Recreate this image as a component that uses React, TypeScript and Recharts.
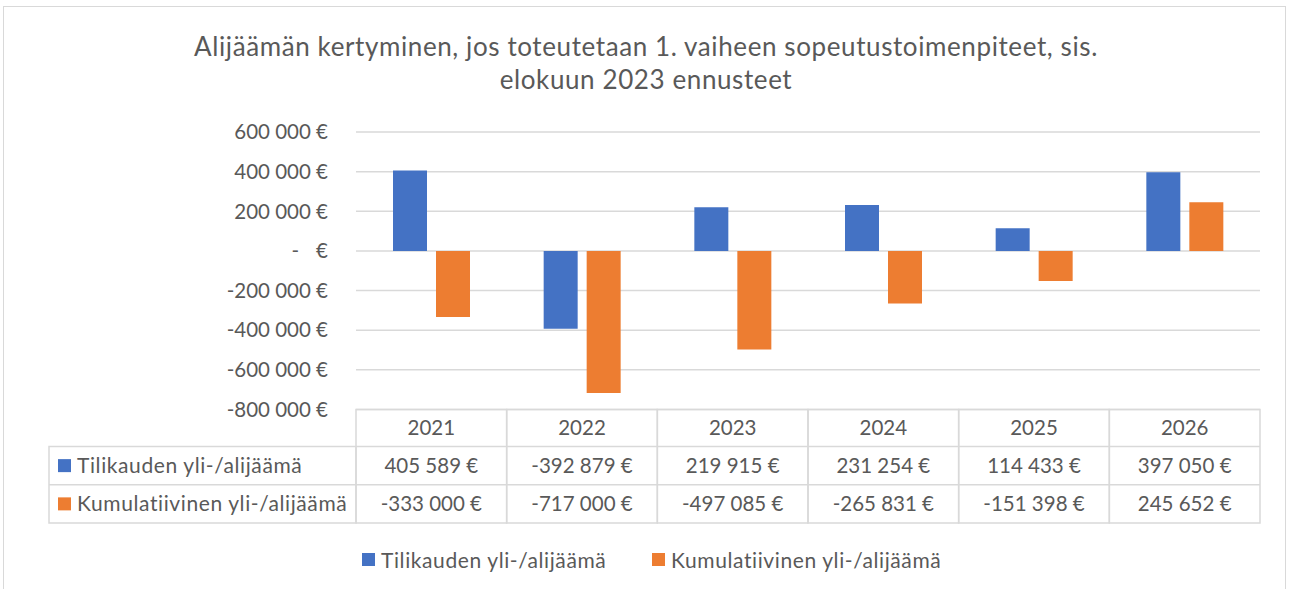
import { BarChart, Bar, XAxis, YAxis, CartesianGrid, Legend } from 'recharts';

const years = ['2021', '2022', '2023', '2024', '2025', '2026'];
const tilikausi = [405589, -392879, 219915, 231254, 114433, 397050];
const kumulatiivinen = [-333000, -717000, -497085, -265831, -151398, 245652];
const yTicks = [-800000, -600000, -400000, -200000, 0, 200000, 400000, 600000];
const seriesNames = ['Tilikauden yli-/alijäämä', 'Kumulatiivinen yli-/alijäämä'];
const seriesColors = ['#4472C4', '#ED7D31'];
const titleLines = [
  'Alijäämän kertyminen, jos toteutetaan 1. vaiheen sopeutustoimenpiteet, sis.',
  'elokuun 2023 ennusteet',
];

const data = years.map((year, i) => ({ year, tilikausi: tilikausi[i], kumulatiivinen: kumulatiivinen[i] }));
const rows = [tilikausi, kumulatiivinen];

// layout
const W = 1290;
const H = 589;
const PLOT_LEFT = 356;
const PLOT_RIGHT = 1260;
const PLOT_TOP = 132;
const Y_AXIS_W = 100;
const TABLE_H = 113.5;
const HEADER_H = 37;
const ROW_H = 38.25;
const LABEL_LEFT = 49;
const COL_W = (PLOT_RIGHT - PLOT_LEFT) / years.length;

const FONT = 'Lato, "Open Sans", sans-serif';
const TEXT = '#595959';
const LINE = '#d9d9d9';
const NUM_SIZE = 20.5;
const LABEL_SIZE = 21;
const LABEL_SPACING = 0.6;

const fmt = (v: number) => {
  const s = String(Math.abs(v)).replace(/\B(?=(\d{3})+(?!\d))/g, ' ');
  return `${v < 0 ? '-' : ''}${s} €`;
};

const YTick = (props: any) => {
  const { x, y, payload } = props;
  if (payload.value === 0) {
    return (
      <g>
        <text x={x - 29} y={y} dy="0.355em" textAnchor="end" fill={TEXT} fontSize={NUM_SIZE} fontFamily={FONT}>-</text>
        <text x={x} y={y} dy="0.355em" textAnchor="end" fill={TEXT} fontSize={NUM_SIZE} fontFamily={FONT}>€</text>
      </g>
    );
  }
  return (
    <text x={x} y={y} dy="0.355em" textAnchor="end" fill={TEXT} fontSize={NUM_SIZE} fontFamily={FONT}>
      {fmt(payload.value)}
    </text>
  );
};

// each x tick draws one column of the data table
const TableTick = (props: any) => {
  const { x, y, payload, index } = props;
  const i = payload.index ?? index;
  const left = x - COL_W / 2;
  const r1 = y + HEADER_H;
  const r2 = r1 + ROW_H;
  const bottom = y + TABLE_H;
  return (
    <g>
      <rect x={left} y={y} width={COL_W} height={TABLE_H} fill="none" stroke={LINE} strokeWidth={1.5} />
      <line x1={left} x2={left + COL_W} y1={r1} y2={r1} stroke={LINE} strokeWidth={1.5} />
      <line x1={left} x2={left + COL_W} y1={r2} y2={r2} stroke={LINE} strokeWidth={1.5} />
      <text x={x} y={y + HEADER_H / 2} dy="0.35em" textAnchor="middle" fill={TEXT} fontSize={NUM_SIZE} fontFamily={FONT}>
        {payload.value}
      </text>
      {rows.map((row, r) => (
        <text key={r} x={x} y={r1 + ROW_H * r + ROW_H / 2} dy="0.35em" textAnchor="middle" fill={TEXT} fontSize={NUM_SIZE} fontFamily={FONT}>
          {fmt(row[i])}
        </text>
      ))}
      {i === 0 && (
        <g>
          <rect x={LABEL_LEFT} y={r1} width={left - LABEL_LEFT} height={bottom - r1} fill="none" stroke={LINE} strokeWidth={1.5} />
          <line x1={LABEL_LEFT} x2={left} y1={r2} y2={r2} stroke={LINE} strokeWidth={1.5} />
          {seriesNames.map((name, r) => {
            const cy = r1 + ROW_H * r + ROW_H / 2;
            return (
              <g key={name}>
                <rect x={LABEL_LEFT + 9} y={cy - 6.5} width={13} height={13} fill={seriesColors[r]} />
                <text
                  x={LABEL_LEFT + 28}
                  y={cy}
                  dy="0.35em"
                  fill={TEXT}
                  fontSize={LABEL_SIZE}
                  letterSpacing={LABEL_SPACING}
                  fontFamily={FONT}
                >
                  {name}
                </text>
              </g>
            );
          })}
        </g>
      )}
    </g>
  );
};

const LegendContent = () => (
  <div style={{ display: 'flex', fontFamily: FONT, fontSize: LABEL_SIZE, letterSpacing: LABEL_SPACING, color: TEXT }}>
    {seriesNames.map((name, i) => (
      <div key={name} style={{ display: 'flex', alignItems: 'center', width: i === 0 ? 290 : 'auto' }}>
        <span style={{ display: 'inline-block', width: 13, height: 13, background: seriesColors[i], marginRight: 6 }} />
        <span>{name}</span>
      </div>
    ))}
  </div>
);

export default function App() {
  return (
    <div style={{ position: 'relative', width: W, height: H, background: '#fff', overflow: 'hidden' }}>
      <style>{'body{margin:0}'}</style>
      <div style={{ position: 'absolute', left: 3, top: 6, width: 1281, height: 620, border: `1.5px solid ${LINE}` }} />
      <svg width={W} height={110} style={{ position: 'absolute', left: 0, top: 0 }}>
        {titleLines.map((line, i) => (
          <text key={i} x={646} y={56 + i * 32.5} textAnchor="middle" fill={TEXT} fontSize={26} letterSpacing={0.6} fontFamily={FONT}>
            {line}
          </text>
        ))}
      </svg>
      <div style={{ position: 'absolute', left: 0, top: 0 }}>
        <BarChart
          width={W}
          height={H}
          data={data}
          barSize={34}
          barGap={9}
          margin={{ top: PLOT_TOP, right: W - PLOT_RIGHT, bottom: H - 409.5 - TABLE_H, left: PLOT_LEFT - Y_AXIS_W }}
        >
          <CartesianGrid vertical={false} stroke={LINE} strokeWidth={1.5} />
          <XAxis
            dataKey="year"
            axisLine={false}
            tickLine={false}
            tickSize={0}
            tickMargin={0}
            height={TABLE_H}
            interval={0}
            tick={<TableTick />}
          />
          <YAxis
            width={Y_AXIS_W}
            domain={[-800000, 600000]}
            ticks={yTicks}
            interval={0}
            axisLine={false}
            tickLine={false}
            tickSize={0}
            tickMargin={28}
            tick={<YTick />}
          />
          <Legend
            layout="horizontal"
            verticalAlign="middle"
            align="center"
            wrapperStyle={{ top: 547, left: 362, width: 'auto' }}
            content={<LegendContent />}
          />
          <Bar dataKey="tilikausi" name={seriesNames[0]} fill={seriesColors[0]} isAnimationActive={false} />
          <Bar dataKey="kumulatiivinen" name={seriesNames[1]} fill={seriesColors[1]} isAnimationActive={false} />
        </BarChart>
      </div>
    </div>
  );
}
